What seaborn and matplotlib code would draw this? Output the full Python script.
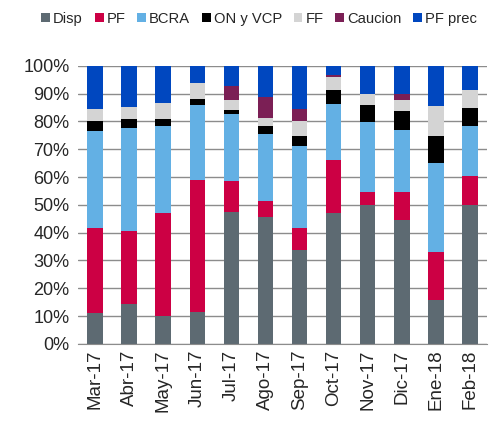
import numpy as np
import pandas as pd
import matplotlib
matplotlib.use('Agg')
import matplotlib.pyplot as plt
from matplotlib.ticker import PercentFormatter, FixedLocator
import seaborn as sns

sns.set_style('white')
plt.rcParams['font.family'] = ['Liberation Sans', 'DejaVu Sans']

# Data (% of total)
months = ['Mar-17', 'Abr-17', 'May-17', 'Jun-17', 'Jul-17', 'Ago-17',
          'Sep-17', 'Oct-17', 'Nov-17', 'Dic-17', 'Ene-18', 'Feb-18']
disp = [11.0, 14.3, 10.1, 11.3, 47.5, 45.7, 33.8, 46.9, 50.0, 44.6, 15.8, 50.1]
pf = [30.6, 26.3, 37.0, 47.6, 11.1, 5.7, 7.9, 19.2, 4.7, 10.2, 17.2, 10.3]
bcra = [34.8, 37.0, 31.3, 27.2, 24.0, 24.2, 29.3, 20.2, 25.2, 22.3, 32.0, 18.0]
on_vcp = [3.6, 3.3, 2.4, 2.1, 1.6, 2.8, 3.6, 4.9, 6.0, 6.8, 9.8, 6.4]
ff = [4.4, 4.2, 5.8, 5.6, 3.6, 2.9, 5.7, 4.8, 3.9, 3.9, 10.6, 6.6]
caucion = [0.0, 0.0, 0.0, 0.0, 5.1, 7.5, 4.2, 0.8, 0.0, 2.1, 0.3, 0.0]
pf_prec = [15.6, 14.9, 13.4, 6.2, 7.1, 11.2, 15.5, 3.2, 10.2, 10.1, 14.3, 8.6]

series = ['Disp', 'PF', 'BCRA', 'ON y VCP', 'FF', 'Caucion', 'PF prec']
colors = ['#5d6a72', '#cc0044', '#63b0e4', '#000000', '#d4d4d4', '#7b1f55', '#0047bf']

df = pd.DataFrame(dict(zip(series, [disp, pf, bcra, on_vcp, ff, caucion, pf_prec])), index=months)
df = df.div(df.sum(axis=1), axis=0) * 100
cum = df.cumsum(axis=1)

fig = plt.figure(figsize=(4.93, 4.25), dpi=100)
ax = fig.add_axes([0.158, 0.191, 0.83, 0.654])

# draw cumulative totals from the top segment down so each one covers the rest
for name, col in reversed(list(zip(series, colors))):
    sns.barplot(x=months, y=cum[name].values, color=col, width=0.45,
                saturation=1, ax=ax, label=name, linewidth=0)

ax.set_ylim(0, 100)
ax.set_xlim(-0.5, len(months) - 0.5)
ax.set_yticks(np.arange(0, 101, 10))
ax.yaxis.set_major_formatter(PercentFormatter(decimals=0))
ax.yaxis.grid(True, color='#8c8c8c', linewidth=1)
ax.set_axisbelow(True)
ax.tick_params(axis='y', labelsize=13, length=0, pad=6)
ax.tick_params(axis='x', labelsize=13.5, rotation=90, length=0, pad=4)
ax.xaxis.set_minor_locator(FixedLocator(np.arange(-0.5, len(months), 1)))
ax.tick_params(axis='x', which='minor', length=5, color='#8c8c8c', width=1, direction='out')
for s in ['top', 'right', 'left']:
    ax.spines[s].set_visible(False)
ax.spines['bottom'].set_color('#8c8c8c')

handles, labels = ax.get_legend_handles_labels()
if ax.get_legend() is not None:
    ax.get_legend().remove()
order = [labels.index(s) for s in series]
fig.legend([handles[i] for i in order], [labels[i] for i in order],
           loc='upper left', bbox_to_anchor=(0.084, 0.972), ncol=7, frameon=False,
           fontsize=10.6, handlelength=0.6, handleheight=0.6, handletextpad=0.2,
           columnspacing=0.8, borderaxespad=0, borderpad=0)

fig.savefig('out.png', dpi=100)
